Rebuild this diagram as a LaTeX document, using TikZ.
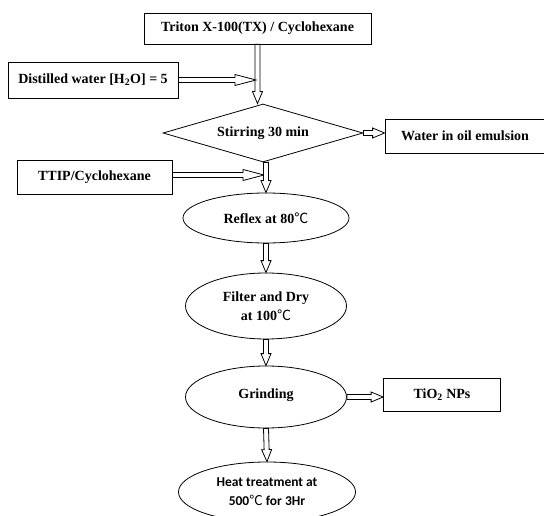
\documentclass[tikz,border=0pt]{standalone}
\usepackage{fontspec}
\setmainfont{Liberation Serif}
\newfontfamily\calfont{Carlito}
\newfontfamily\cjk{Noto Sans CJK SC}
\usetikzlibrary{shapes.geometric,calc}
\newcommand{\degc}{{\cjk\mdseries ℃}}

\begin{document}
\begin{tikzpicture}[x=1pt, y=-1pt, line width=0.8pt,
  every node/.style={font=\fontsize{14}{18.5}\selectfont\bfseries, align=center, inner sep=0pt},
  box/.style={draw, rectangle, minimum height=33pt},
  oval/.style={draw, ellipse, minimum width=161pt, minimum height=62pt},
  hollow/.style 2 args={fill=white, to path={
    ($(\tikztostart)!2.5pt!90:(\tikztotarget)$)
    -- ($(\tikztotarget)!#1!(\tikztostart)!2.5pt!90:(\tikztotarget)$)
    -- ($(\tikztotarget)!#1!(\tikztostart)!#2!90:(\tikztotarget)$)
    -- (\tikztotarget)
    -- ($(\tikztotarget)!#1!(\tikztostart)!#2!-90:(\tikztotarget)$)
    -- ($(\tikztotarget)!#1!(\tikztostart)!2.5pt!-90:(\tikztotarget)$)
    -- ($(\tikztostart)!2.5pt!-90:(\tikztotarget)$) -- cycle}},
  flow/.style={hollow={12pt}{5pt}},
  longflow/.style={hollow={21pt}{5.5pt}}]
  \useasboundingbox (0,0) rectangle (544,516);
  \node[box, minimum width=227pt, minimum height=31pt] (tx) at (257.5,28.5) {Triton X-100(TX) / Cyclohexane};
  \node[box, minimum width=170pt, minimum height=36pt] (dw) at (93,80) {Distilled water [H\textsubscript{2}O] = 5};
  \node[draw, diamond, aspect=3.4, minimum width=200pt, minimum height=58pt] (stir) at (263,133) {Stirring 30 min};
  \node[box, minimum width=160pt, minimum height=34pt] (emul) at (465,136) {Water in oil emulsion};
  \node[box, minimum width=155pt, minimum height=34pt] (ttip) at (94.5,177) {TTIP/Cyclohexane};
  \node[oval, minimum width=166pt, minimum height=50pt] (reflux) at (266,218) {Reflex at 80\degc};
  \node[oval, minimum height=66pt] (dry) at (266,306) {Filter and Dry\\at 100\degc};
  \node[oval] (grind) at (266,397) {\raisebox{7pt}{Grinding}};
  \node[box, minimum width=117pt] (tio2) at (442,395) {TiO\textsubscript{2} NPs};
  \node[oval, minimum width=177pt, minimum height=60pt, font=\fontsize{13.5}{19}\selectfont\calfont\bfseries] (heat) at (267,492) {Heat treatment at\\500\degc{} for 3Hr};
  \coordinate (j1) at (256,81);
  \coordinate (j2) at (264,175);
  \draw[flow] (tx.south) to (tx.south |- stir.north);
  \draw[longflow] (dw.east) to (dw.east -| j1);
  \draw[flow] (stir.east) to (stir.east -| emul.west);
  \draw[longflow] (ttip.east |- j2) to (j2);
  \draw[flow] (reflux.north |- stir.south) to (reflux.north);
  \draw[flow] (reflux.south) to (dry.north);
  \draw[flow] (dry.south) to (grind.north);
  \draw[flow] (grind.east) to (grind.east -| tio2.west);
  \draw[flow] (grind.south) to (heat.north);
\end{tikzpicture}
\end{document}
